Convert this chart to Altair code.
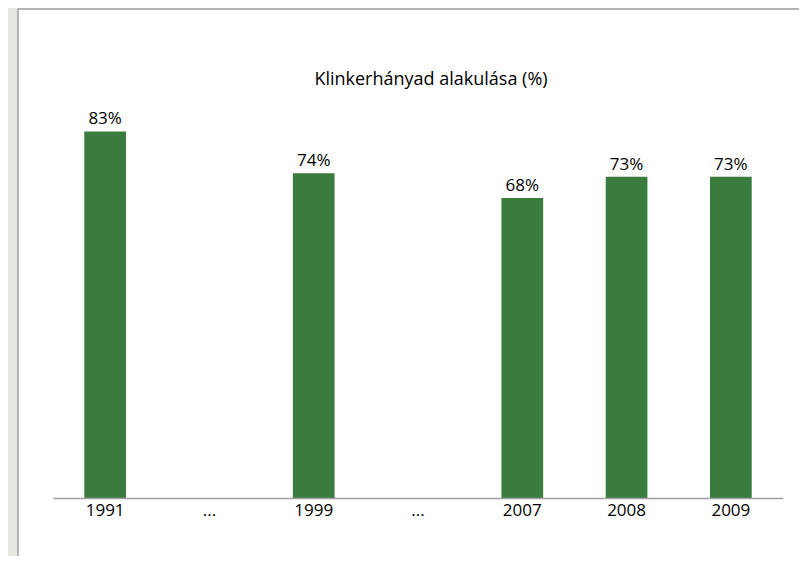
import altair as alt
import pandas as pd

title_text = "Klinkerhányad alakulása (%)"
categories = ["1991", "gap1", "1999", "gap2", "2007", "2008", "2009"]
tick_labels = ["1991", "...", "1999", "...", "2007", "2008", "2009"]
values = [83.1, None, 73.6, None, 68.0, 72.8, 72.8]
value_labels = ["83%", "", "74%", "", "68%", "73%", "73%"]

df = pd.DataFrame({"cat": categories, "val": values, "lab": value_labels})
bars_df = df.dropna()

label_map = dict(zip(categories, tick_labels))
label_expr = "{" + ",".join(f"'{k}':'{v}'" for k, v in label_map.items()) + "}[datum.value]"

FONT = "Open Sans"
GREEN = "#3a7c3e"

x_enc = alt.X(
    "cat:N",
    sort=categories,
    scale=alt.Scale(domain=categories, paddingInner=0.6, paddingOuter=0.3),
    axis=alt.Axis(
        title=None,
        labelExpr=label_expr,
        labelAngle=0,
        ticks=False,
        domainColor="#a0a0a0",
        domainWidth=1.5,
        labelColor="#000000",
        labelFont=FONT,
        labelFontSize=17,
        labelPadding=4,
        zindex=1,
    ),
)
y_enc = alt.Y("val:Q", scale=alt.Scale(domain=[0, 90]), axis=None)

panel = alt.Chart(pd.DataFrame({"p": [0]})).mark_rect(
    fill="white", stroke="#a0a0a0", strokeWidth=1.5
).encode(
    x=alt.value(-35), x2=alt.value(790), y=alt.value(-92), y2=alt.value(480)
)

title = alt.Chart(pd.DataFrame({"t": [title_text]})).mark_text(
    font=FONT, fontSize=18, color="#000000", baseline="alphabetic", align="center"
).encode(x=alt.value(378), y=alt.value(-16), text="t:N")

bars = alt.Chart(bars_df).mark_bar(color=GREEN).encode(x=x_enc, y=y_enc)

text = alt.Chart(bars_df).mark_text(
    baseline="alphabetic", dy=-7, font=FONT, fontSize=17, color="#000000"
).encode(x=x_enc, y=y_enc, text="lab:N")

chart = alt.layer(panel, title, bars, text).properties(
    width=730,
    height=397,
    autosize=alt.AutoSizeParams(type="none"),
    padding={"left": 45, "top": 93, "right": 16, "bottom": 58},
    background="#e6e7e0",
).configure_view(stroke=None)

chart.save("out.html", embed_options={"renderer": "svg", "actions": False})
